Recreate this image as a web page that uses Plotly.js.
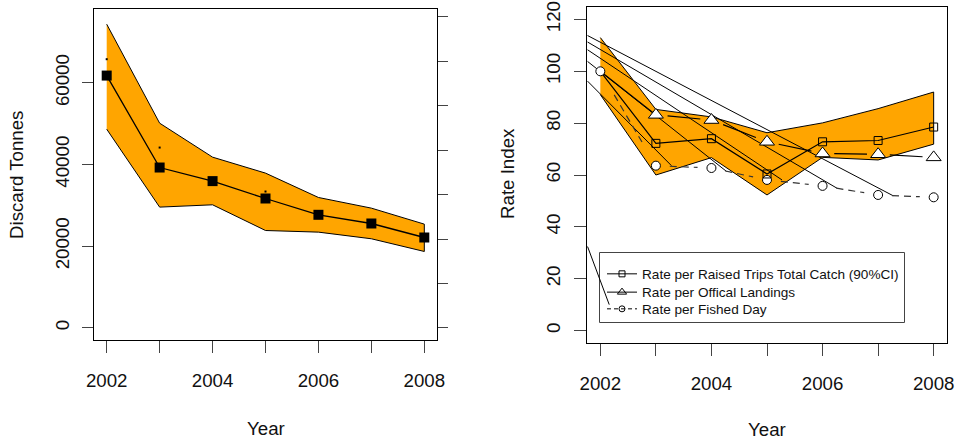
<!DOCTYPE html>
<html>
<head>
<meta charset="utf-8">
<script src="https://cdn.plot.ly/plotly-3.0.1.min.js"></script>
<style>html,body{margin:0;padding:0;background:#fff}#chart{width:957px;height:441px}</style>
</head>
<body>
<div id="chart"></div>
<script>
// ---------- data ----------
const years = [2002, 2003, 2004, 2005, 2006, 2007, 2008];
const yearLabels = ['2002', '', '2004', '', '2006', '', '2008'];

// left panel: discard tonnes with confidence band
const discardMid   = [61790, 39260, 35930, 31670, 27675, 25545, 22115];
const discardUpper = [74380, 50130, 41800, 37890, 31920, 29310, 25390];
const discardLower = [48660, 29560, 30125, 23830, 23430, 21800, 18690];
const discardDotYears = [2002, 2003, 2005];
const discardDotValues = [65800, 44150, 33380];
const discardTicks = [0, 20000, 40000, 60000];
const discardRightTicks = [0, 1, 2, 3, 4, 5, 6, 7];

// right panel: rate indices
const rateTrips    = [100, 72.2, 74.0, 60.4, 72.8, 73.3, 78.5];
const rateLandings = [100, 83.2, 81.2, 72.8, 68.3, 68.0, 66.8];
const rateDays     = [100, 63.6, 62.7, 58.1, 55.8, 52.3, 51.4];
const rateCiUpper  = [113, 85.3, 82.4, 76.3, 80.1, 85.6, 92.0];
const rateCiLower  = [91, 60.0, 66.7, 52.3, 66.8, 65.8, 71.9];
const rateTicks = [0, 20, 40, 60, 80, 100, 120];

// stray line segments visible in the right panel
const strayX0 = [2001.77, 2001.77, 2001.77, 2001.77, 2001.77, 2001.77];
const strayY0 = [113.8, 111.3, 108.3, 103.8, 96.2, 32.4];
const strayX1 = [2007.27, 2006.26, 2005.27, 2004.27, 2003.28, 2002.16];
const strayY1 = [52.0, 54.9, 58.1, 61.4, 63.6, 10.0];

const legendNames = ['Rate per Raised Trips Total Catch (90%CI)', 'Rate per Offical Landings', 'Rate per Fished Day'];

// ---------- helpers ----------
function gapped(xs, ys, startOff, endOff, firstFull) {
  const gx = [], gy = [];
  for (let i = 0; i < xs.length - 1; i++) {
    const a = (i === 0 && firstFull) ? 0 : startOff;
    const b = (i === 0 && firstFull) ? 0 : endOff;
    const dx = xs[i + 1] - xs[i], dy = ys[i + 1] - ys[i];
    gx.push(xs[i] + a * dx, xs[i + 1] - b * dx, null);
    gy.push(ys[i] + a * dy, ys[i + 1] - b * dy, null);
  }
  return {x: gx, y: gy};
}
const strayX = [], strayY = [];
for (let i = 0; i < strayX0.length; i++) {
  strayX.push(strayX0[i], strayX1[i], null);
  strayY.push(strayY0[i], strayY1[i], null);
}

const ORANGE = '#FFA500';
const FONT = '"Liberation Sans", Arial, Helvetica, sans-serif';

const triSeg = gapped(years, rateLandings, 0.21, 0.2, true);
const cirSeg = gapped(years, rateDays, 0.25, 0.25, false);

const traces = [
  // ---- left panel ----
  {x: years.concat(years.slice().reverse()), y: discardUpper.concat(discardLower.slice().reverse()),
   xaxis: 'x', yaxis: 'y', type: 'scatter', mode: 'lines', fill: 'toself', fillcolor: ORANGE,
   line: {color: '#000', width: 1}, showlegend: false, hoverinfo: 'skip'},
  {x: years, y: discardMid, xaxis: 'x', yaxis: 'y', type: 'scatter', mode: 'lines+markers',
   line: {color: '#000', width: 1.3}, marker: {symbol: 'square', size: 10, color: '#000'}, showlegend: false},
  {x: discardDotYears, y: discardDotValues, xaxis: 'x', yaxis: 'y', type: 'scatter', mode: 'markers',
   marker: {symbol: 'square', size: 2, color: '#000'}, showlegend: false, hoverinfo: 'skip'},
  {x: [2002], y: [0], xaxis: 'x', yaxis: 'y2', type: 'scatter', mode: 'markers', marker: {opacity: 0},
   showlegend: false, hoverinfo: 'skip'},

  // ---- right panel ----
  {x: years.concat(years.slice().reverse()), y: rateCiUpper.concat(rateCiLower.slice().reverse()),
   xaxis: 'x2', yaxis: 'y3', type: 'scatter', mode: 'lines', fill: 'toself', fillcolor: ORANGE,
   line: {color: '#000', width: 1}, showlegend: false, hoverinfo: 'skip'},
  {x: strayX, y: strayY, xaxis: 'x2', yaxis: 'y3', type: 'scatter', mode: 'lines',
   line: {color: '#000', width: 1}, showlegend: false, hoverinfo: 'skip'},
  {x: years, y: rateTrips, xaxis: 'x2', yaxis: 'y3', type: 'scatter', mode: 'lines',
   line: {color: '#000', width: 1.2}, showlegend: false},
  {x: triSeg.x, y: triSeg.y, xaxis: 'x2', yaxis: 'y3', type: 'scatter', mode: 'lines',
   line: {color: '#000', width: 1.2}, showlegend: false, hoverinfo: 'skip'},
  {x: cirSeg.x, y: cirSeg.y, xaxis: 'x2', yaxis: 'y3', type: 'scatter', mode: 'lines',
   line: {color: '#333', width: 1.2, dash: '7px,5px'}, showlegend: false, hoverinfo: 'skip'},
  {x: years.slice(1), y: rateLandings.slice(1), xaxis: 'x2', yaxis: 'y3', type: 'scatter', mode: 'markers',
   marker: {symbol: 'triangle-up', size: 13, color: '#fff', line: {color: '#000', width: 1}}, showlegend: false},
  {x: years, y: rateDays, xaxis: 'x2', yaxis: 'y3', type: 'scatter', mode: 'markers',
   marker: {symbol: 'circle', size: 9, color: '#fff', line: {color: '#000', width: 1}}, showlegend: false},
  {x: years.slice(1), y: rateTrips.slice(1), xaxis: 'x2', yaxis: 'y3', type: 'scatter', mode: 'markers',
   marker: {symbol: 'square-open', size: 8, color: '#000', line: {width: 1}}, showlegend: false},

  // legend entries (one legend box per row so the row spacing can match)
  {x: [null], y: [null], xaxis: 'x2', yaxis: 'y3', type: 'scatter', mode: 'lines+markers', name: legendNames[0],
   legend: 'legend', line: {color: '#000', width: 1}, marker: {symbol: 'square-open', size: 6, color: '#000'}},
  {x: [null], y: [null], xaxis: 'x2', yaxis: 'y3', type: 'scatter', mode: 'lines+markers', name: legendNames[1],
   legend: 'legend2', line: {color: '#000', width: 1}, marker: {symbol: 'triangle-up-open', size: 8, color: '#000'}},
  {x: [null], y: [null], xaxis: 'x2', yaxis: 'y3', type: 'scatter', mode: 'lines+markers', name: legendNames[2],
   legend: 'legend3', line: {color: '#000', width: 1, dash: '4px,3px'}, marker: {symbol: 'circle-open', size: 6, color: '#000'}}
];

const W = 957, H = 441;
const px = v => v / W, py = v => 1 - v / H;

const axisCommon = {
  showgrid: false, zeroline: false, showline: true, mirror: true, linecolor: '#000', linewidth: 1,
  ticks: 'outside', tickcolor: '#444', tickwidth: 1,
  tickfont: {family: FONT, size: 18.7, color: '#111'}, fixedrange: true
};
const legendBase = {x: px(602), xanchor: 'left', yanchor: 'top', bgcolor: 'rgba(0,0,0,0)', borderwidth: 0,
  font: {family: FONT, size: 13.6, color: '#111'}};

const layout = {
  width: W, height: H, margin: {l: 0, r: 0, t: 0, b: 0},
  paper_bgcolor: '#fff', plot_bgcolor: 'rgba(0,0,0,0)',
  font: {family: FONT, color: '#111'},
  xaxis: Object.assign({}, axisCommon, {domain: [px(94), px(437)], range: [2001.76, 2008.24], anchor: 'y',
    tickvals: years, ticktext: yearLabels, ticklen: 12, ticklabelstandoff: 12}),
  yaxis: Object.assign({}, axisCommon, {domain: [py(340), py(9)], range: [-3000, 78100], anchor: 'x',
    tickvals: discardTicks, ticktext: discardTicks.map(String), ticklen: 11, tickangle: -90, ticklabelstandoff: 6}),
  yaxis2: {overlaying: 'y', side: 'right', anchor: 'x', range: [-0.27, 7.17], tickvals: discardRightTicks,
    showticklabels: false, ticks: 'outside', ticklen: 10, tickcolor: '#444', showgrid: false, zeroline: false,
    showline: false, fixedrange: true},
  xaxis2: Object.assign({}, axisCommon, {domain: [px(587), px(947)], range: [2001.76, 2008.24], anchor: 'y3',
    tickvals: years, ticktext: yearLabels, ticklen: 12, ticklabelstandoff: 12}),
  yaxis3: Object.assign({}, axisCommon, {domain: [py(343), py(7)], range: [-4.8, 124.8], anchor: 'x2',
    tickvals: rateTicks, ticktext: rateTicks.map(String), ticklen: 12, tickangle: -90, ticklabelstandoff: 7}),
  showlegend: true,
  legend: Object.assign({}, legendBase, {y: py(258.5)}),
  legend2: Object.assign({}, legendBase, {y: py(276.8)}),
  legend3: Object.assign({}, legendBase, {y: py(293.5)}),
  shapes: [
    {type: 'rect', xref: 'paper', yref: 'paper', x0: px(599.5), x1: px(904.5), y0: py(322.5), y1: py(252.5),
     line: {color: '#444', width: 1}, fillcolor: 'rgba(0,0,0,0)', layer: 'below'}
  ],
  annotations: [
    {text: 'Year', xref: 'paper', yref: 'paper', x: px(265.5), y: py(428), xanchor: 'center', yanchor: 'middle',
     showarrow: false, font: {family: FONT, size: 18.7, color: '#111'}},
    {text: 'Year', xref: 'paper', yref: 'paper', x: px(767), y: py(429), xanchor: 'center', yanchor: 'middle',
     showarrow: false, font: {family: FONT, size: 18.7, color: '#111'}},
    {text: 'Discard Tonnes', xref: 'paper', yref: 'paper', x: px(17), y: py(175), xanchor: 'center', yanchor: 'middle',
     textangle: -90, showarrow: false, font: {family: FONT, size: 18.7, color: '#111'}},
    {text: 'Rate Index', xref: 'paper', yref: 'paper', x: px(507), y: py(174), xanchor: 'center', yanchor: 'middle',
     textangle: -90, showarrow: false, font: {family: FONT, size: 18.7, color: '#111'}}
  ]
};

Plotly.newPlot('chart', traces, layout, {staticPlot: true, displayModeBar: false});
</script>
</body>
</html>
